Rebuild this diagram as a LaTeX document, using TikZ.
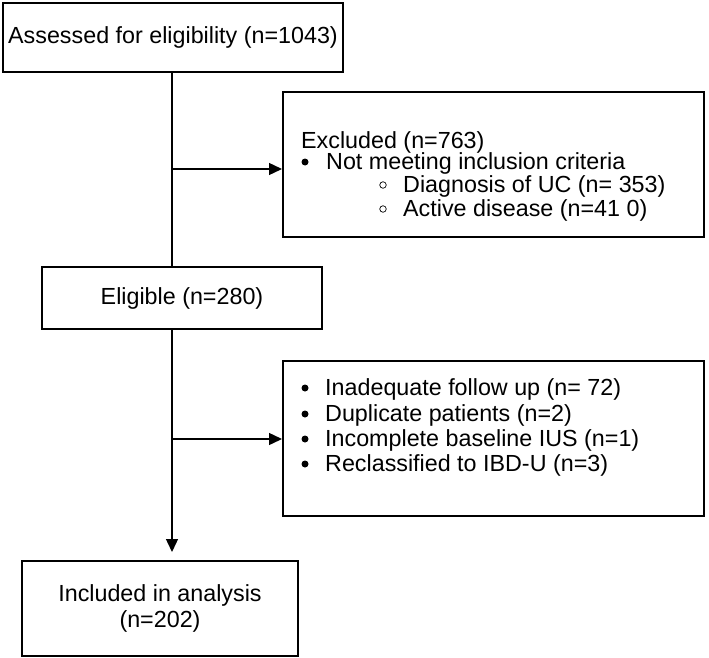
\documentclass[tikz,border=0pt]{standalone}
\usepackage{fontspec}
\setmainfont{Liberation Sans}
\usetikzlibrary{arrows.meta}
\begin{document}
\begin{tikzpicture}[x=1pt,y=-1pt,
  box/.style={draw,line width=2pt,inner sep=0pt,align=center,font=\fontsize{23.3}{26}\selectfont},
  txt/.style={font=\fontsize{23.3}{26}\selectfont,inner sep=0pt,anchor=base west},
  conn/.style={line width=1.4pt},
  arr/.style={conn,-{Triangle[length=13pt,width=12pt]}},
  dot/.style={circle,fill,inner sep=0pt,minimum size=7pt},
  ring/.style={circle,draw,line width=0.7pt,inner sep=0pt,minimum size=6.5pt}]
\useasboundingbox (0,0) rectangle (709,658);
% boxes
\node[box,minimum width=340pt,minimum height=69pt] (assess) at (173,37.5) {Assessed for eligibility (n=1043)};
\node[box,minimum width=421pt,minimum height=145pt] (excl) at (493.5,164.5) {};
\node[box,minimum width=280pt,minimum height=62pt] (elig) at (182,298) {Eligible (n=280)};
\node[box,minimum width=421pt,minimum height=155pt] (excl2) at (493.5,438.5) {};
\node[box,minimum width=276pt,minimum height=95pt] (incl) at (160,608.5) {Included in analysis\\(n=202)};
% text of excluded box
\node[txt] (e0) at (301,148) {Excluded (n=763)};
\node[dot] (b0) at (305,162) {};
\node[txt] (e1) at (326,169) {Not meeting inclusion criteria};
\node[ring] (c1) at (383,185) {};
\node[txt] (e2) at (403,192) {Diagnosis of UC (n= 353)};
\node[ring] (c2) at (383,209) {};
\node[txt] (e3) at (403,216) {Active disease (n=41 0)};
% text of second box
\node[dot] (b1) at (305,388) {};
\node[txt] (f1) at (325,395) {Inadequate follow up (n= 72)};
\node[dot] (b2) at (305,414) {};
\node[txt] (f2) at (325,421) {Duplicate patients (n=2)};
\node[dot] (b3) at (305,439) {};
\node[txt] (f3) at (325,446) {Incomplete baseline IUS (n=1)};
\node[dot] (b4) at (305,464) {};
\node[txt] (f4) at (325,471) {Reclassified to IBD-U (n=3)};
% connectors
\coordinate (spine) at (172,0);
\coordinate (j1) at (172,169);
\coordinate (j2) at (172,439);
\draw[conn] (assess.south -| spine) -- (elig.north -| spine);
\draw[arr] (j1) -- (j1 -| excl.west);
\draw[arr,shorten >=8pt] (elig.south -| spine) -- (incl.north -| spine);
\draw[arr] (j2) -- (j2 -| excl2.west);
\end{tikzpicture}
\end{document}
